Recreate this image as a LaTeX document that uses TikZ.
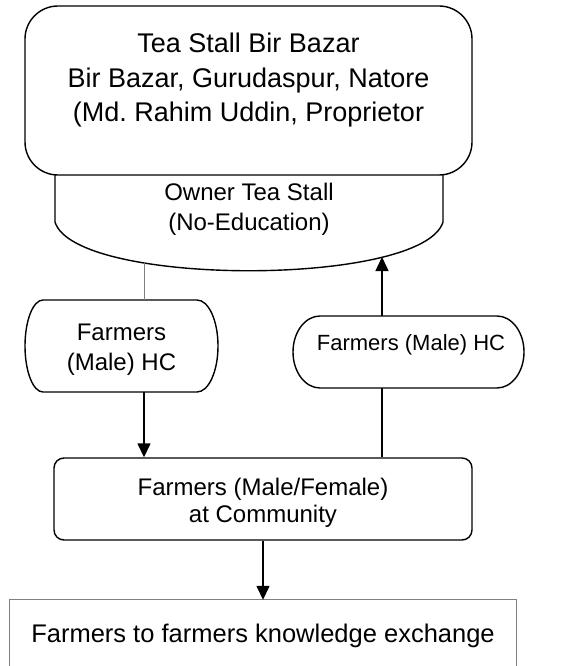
\documentclass[tikz,border=0pt]{standalone}
\usepackage{fontspec}
\setmainfont{Liberation Sans}
\usetikzlibrary{arrows.meta}
\frenchspacing
\begin{document}
\begin{tikzpicture}[x=1pt,y=-1pt,
  line/.style={line width=1.4pt, black},
  thin/.style={line width=0.9pt, gray},
  arr/.style={line width=1.4pt, -{Triangle[length=14pt,width=13pt]}},
  txt/.style={align=center, inner sep=0pt},
  f24/.style={font=\fontsize{24}{30}\selectfont},
  shapebox/.style={draw=none, inner sep=0pt}]
\useasboundingbox (0,0) rectangle (562,666);
% owner bowl
\draw[line] (55,175) -- (55,222) .. controls (75,287) and (423,287) .. (443,222) -- (443,175);
\node[txt,f24] (owner) at (249,209.5) {Owner Tea Stall\\(No-Education)};
% top stall box
\node[line, draw, fill=white, rounded corners=33pt, minimum width=447pt, minimum height=169pt] (stall) at (248.5,90.5) {};
\node[txt, font=\fontsize{27}{34.5}\selectfont] (stalltxt) at (248.5,80.5) {Tea Stall Bir Bazar\\Bir Bazar, Gurudaspur, Natore\\(Md.\ Rahim Uddin, Proprietor};
% left pill
\node[shapebox, minimum width=193pt, minimum height=92pt] (lp) at (121.5,346) {};
\draw[line] (43,300) -- (197,300) arc[start angle=-90, end angle=90, x radius=21, y radius=46]
  -- (43,392) arc[start angle=90, end angle=270, x radius=18, y radius=46] -- cycle;
\node[txt,f24] (lptxt) at (121.5,349.5) {Farmers\\(Male) HC};
% right pill
\node[shapebox, minimum width=230pt, minimum height=72pt] (rp) at (408,352) {};
\draw[line] (320,316) -- (497,316) arc[start angle=-90, end angle=90, x radius=27, y radius=36]
  -- (320,388) arc[start angle=90, end angle=270, x radius=27, y radius=36] -- cycle;
\node[txt, font=\fontsize{22}{27}\selectfont] (rptxt) at (411,345) {Farmers (Male) HC};
% community box
\node[line, draw, rounded corners=10pt, minimum width=418pt, minimum height=82pt] (comm) at (263,499) {};
\node[txt, font=\fontsize{24}{27}\selectfont] (commtxt) at (263,503) {Farmers (Male/Female)\\at Community};
% bottom box
\node[shapebox, minimum width=506pt, minimum height=66pt] (kx) at (263,633) {};
\draw[thin] (kx.south west) -- (kx.north west) -- (kx.north east) -- (kx.south east);
\node[txt, font=\fontsize{25.5}{30}\selectfont] (kxtxt) at (263,636) {Farmers to farmers knowledge exchange};
% connectors
\coordinate (g1) at (144,263);
\coordinate (r1) at (382,257);
\draw[thin] (g1) -- (g1 |- lp.north);
\draw[arr] (lp.south -| g1) -- (comm.north -| g1);
\draw[line] (comm.north -| r1) -- (rp.south -| r1);
\draw[arr] (rp.north -| r1) -- (r1);
\draw[arr] (comm.south) -- (kx.north);
\end{tikzpicture}
\end{document}
